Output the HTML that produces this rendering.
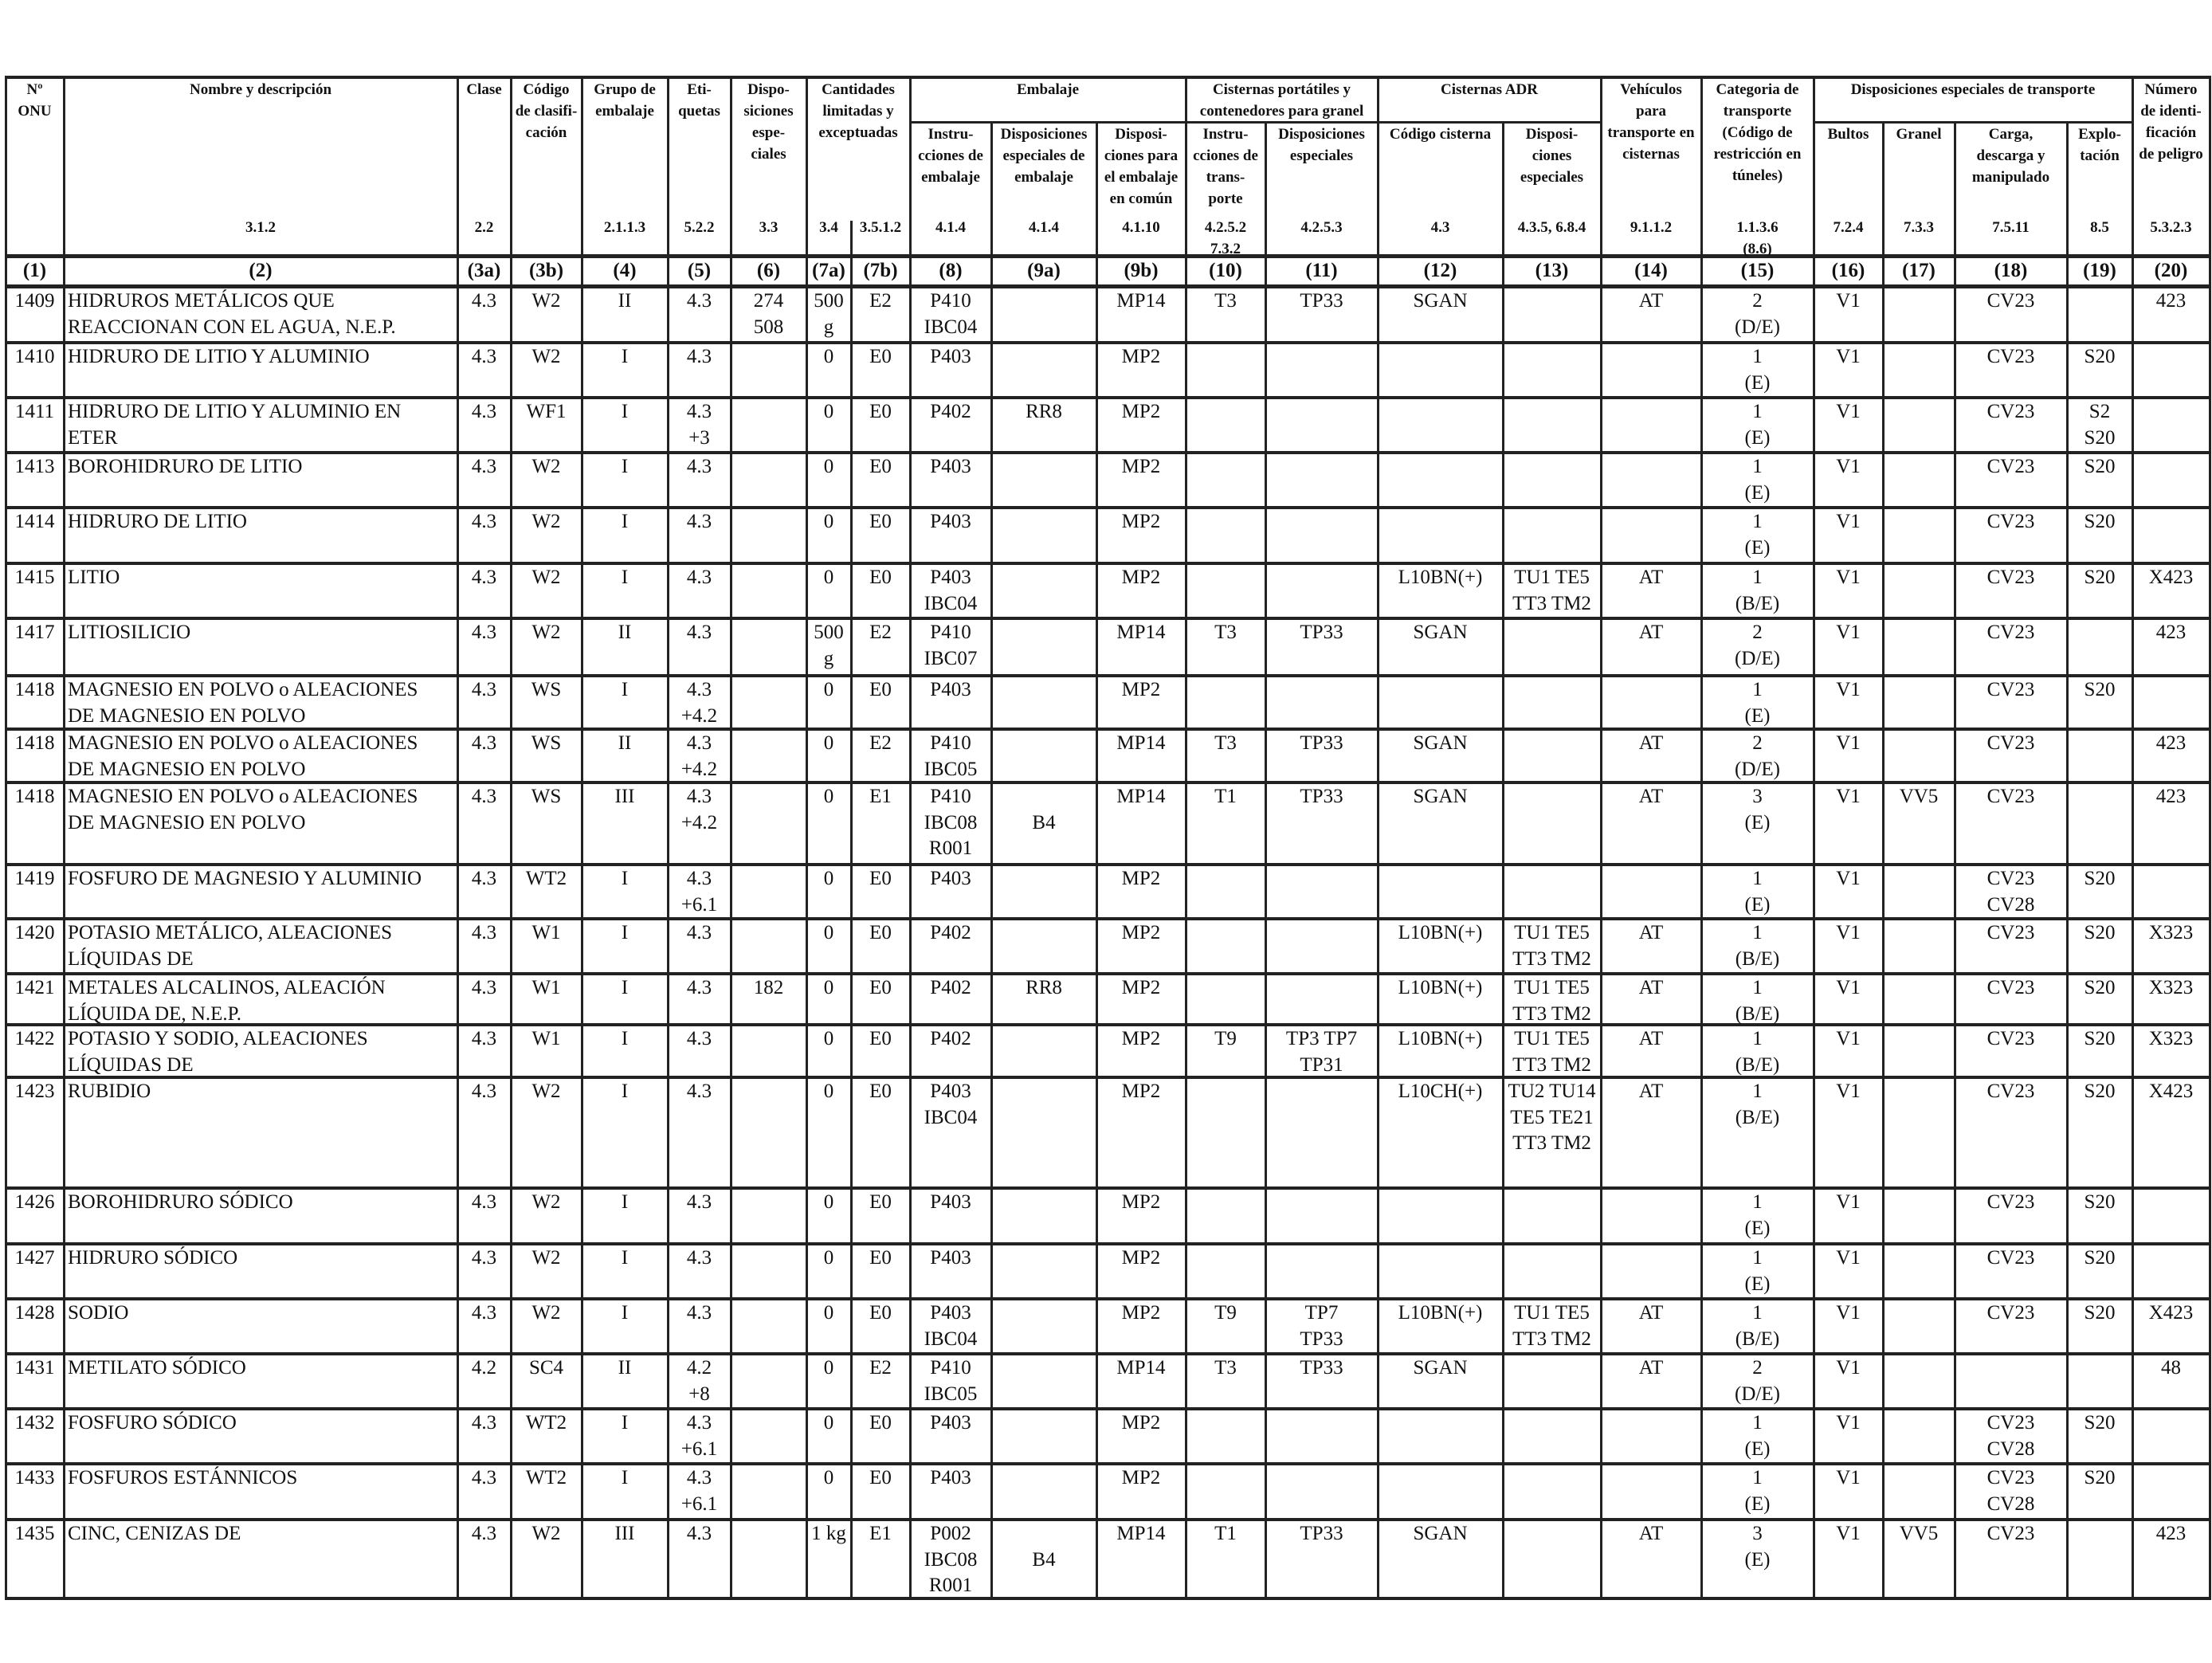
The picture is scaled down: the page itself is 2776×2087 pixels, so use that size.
<!DOCTYPE html>
<html><head><meta charset="utf-8">
<style>
html,body{margin:0;padding:0;background:#fff;}
#page{position:relative;width:2776px;height:2087px;overflow:hidden;background:#fff;font-family:"Liberation Serif",serif;color:#111;}
.ln{position:absolute;background:#222;}
.h{position:absolute;font-weight:bold;font-size:19px;line-height:27px;text-align:center;white-space:nowrap;}
.cn{position:absolute;font-weight:bold;font-size:25px;line-height:39px;text-align:center;white-space:nowrap;}
.c{position:absolute;font-size:25px;line-height:32.5px;text-align:center;white-space:nowrap;}
.c.nm{text-align:left;}
</style></head>
<body>
<div id="page"></div>
<script>
const colEdges=[7,80,574,641,730,838,917,1012,1068,1142,1244,1376,1488,1588,1729,1886,2009,2135,2276,2363,2453,2594,2676,2773];
const rowEdges=[359,429,498,567,636,706,775,847,914,981,1084,1152,1221,1285,1351,1490,1560,1629,1698,1767,1836,1906,2005];
const colNums=["(1)","(2)","(3a)","(3b)","(4)","(5)","(6)","(7a)","(7b)","(8)","(9a)","(9b)","(10)","(11)","(12)","(13)","(14)","(15)","(16)","(17)","(18)","(19)","(20)"];
const refs=["","3.1.2","2.2","","2.1.1.3","5.2.2","3.3","3.4","3.5.1.2","4.1.4","4.1.4","4.1.10","4.2.5.2|7.3.2","4.2.5.3","4.3","4.3.5, 6.8.4","9.1.1.2","1.1.3.6|(8.6)","7.2.4","7.3.3","7.5.11","8.5","5.3.2.3"];
const rows=[
["1409","HIDRUROS METÁLICOS QUE|REACCIONAN CON EL AGUA, N.E.P.","4.3","W2","II","4.3","274|508","500|g","E2","P410|IBC04","","MP14","T3","TP33","SGAN","","AT","2|(D/E)","V1","","CV23","","423"],
["1410","HIDRURO DE LITIO Y ALUMINIO","4.3","W2","I","4.3","","0","E0","P403","","MP2","","","","","","1|(E)","V1","","CV23","S20",""],
["1411","HIDRURO DE LITIO Y ALUMINIO EN|ETER","4.3","WF1","I","4.3|+3","","0","E0","P402","RR8","MP2","","","","","","1|(E)","V1","","CV23","S2|S20",""],
["1413","BOROHIDRURO DE LITIO","4.3","W2","I","4.3","","0","E0","P403","","MP2","","","","","","1|(E)","V1","","CV23","S20",""],
["1414","HIDRURO DE LITIO","4.3","W2","I","4.3","","0","E0","P403","","MP2","","","","","","1|(E)","V1","","CV23","S20",""],
["1415","LITIO","4.3","W2","I","4.3","","0","E0","P403|IBC04","","MP2","","","L10BN(+)","TU1 TE5|TT3 TM2","AT","1|(B/E)","V1","","CV23","S20","X423"],
["1417","LITIOSILICIO","4.3","W2","II","4.3","","500|g","E2","P410|IBC07","","MP14","T3","TP33","SGAN","","AT","2|(D/E)","V1","","CV23","","423"],
["1418","MAGNESIO EN POLVO o ALEACIONES|DE MAGNESIO EN POLVO","4.3","WS","I","4.3|+4.2","","0","E0","P403","","MP2","","","","","","1|(E)","V1","","CV23","S20",""],
["1418","MAGNESIO EN POLVO o ALEACIONES|DE MAGNESIO EN POLVO","4.3","WS","II","4.3|+4.2","","0","E2","P410|IBC05","","MP14","T3","TP33","SGAN","","AT","2|(D/E)","V1","","CV23","","423"],
["1418","MAGNESIO EN POLVO o ALEACIONES|DE MAGNESIO EN POLVO","4.3","WS","III","4.3|+4.2","","0","E1","P410|IBC08|R001","|B4","MP14","T1","TP33","SGAN","","AT","3|(E)","V1","VV5","CV23","","423"],
["1419","FOSFURO DE MAGNESIO Y ALUMINIO","4.3","WT2","I","4.3|+6.1","","0","E0","P403","","MP2","","","","","","1|(E)","V1","","CV23|CV28","S20",""],
["1420","POTASIO METÁLICO, ALEACIONES|LÍQUIDAS DE","4.3","W1","I","4.3","","0","E0","P402","","MP2","","","L10BN(+)","TU1 TE5|TT3 TM2","AT","1|(B/E)","V1","","CV23","S20","X323"],
["1421","METALES ALCALINOS, ALEACIÓN|LÍQUIDA DE, N.E.P.","4.3","W1","I","4.3","182","0","E0","P402","RR8","MP2","","","L10BN(+)","TU1 TE5|TT3 TM2","AT","1|(B/E)","V1","","CV23","S20","X323"],
["1422","POTASIO Y SODIO, ALEACIONES|LÍQUIDAS DE","4.3","W1","I","4.3","","0","E0","P402","","MP2","T9","TP3 TP7|TP31","L10BN(+)","TU1 TE5|TT3 TM2","AT","1|(B/E)","V1","","CV23","S20","X323"],
["1423","RUBIDIO","4.3","W2","I","4.3","","0","E0","P403|IBC04","","MP2","","","L10CH(+)","TU2 TU14|TE5 TE21|TT3 TM2","AT","1|(B/E)","V1","","CV23","S20","X423"],
["1426","BOROHIDRURO SÓDICO","4.3","W2","I","4.3","","0","E0","P403","","MP2","","","","","","1|(E)","V1","","CV23","S20",""],
["1427","HIDRURO SÓDICO","4.3","W2","I","4.3","","0","E0","P403","","MP2","","","","","","1|(E)","V1","","CV23","S20",""],
["1428","SODIO","4.3","W2","I","4.3","","0","E0","P403|IBC04","","MP2","T9","TP7|TP33","L10BN(+)","TU1 TE5|TT3 TM2","AT","1|(B/E)","V1","","CV23","S20","X423"],
["1431","METILATO SÓDICO","4.2","SC4","II","4.2|+8","","0","E2","P410|IBC05","","MP14","T3","TP33","SGAN","","AT","2|(D/E)","V1","","","","48"],
["1432","FOSFURO SÓDICO","4.3","WT2","I","4.3|+6.1","","0","E0","P403","","MP2","","","","","","1|(E)","V1","","CV23|CV28","S20",""],
["1433","FOSFUROS ESTÁNNICOS","4.3","WT2","I","4.3|+6.1","","0","E0","P403","","MP2","","","","","","1|(E)","V1","","CV23|CV28","S20",""],
["1435","CINC, CENIZAS DE","4.3","W2","III","4.3","","1 kg","E1","P002|IBC08|R001","|B4","MP14","T1","TP33","SGAN","","AT","3|(E)","V1","VV5","CV23","","423"]
];
const page=document.getElementById('page');
function line(x,y,w,h){
  const d=document.createElement('div');
  d.className='ln';
  
  
  d.style.left=x+'px';d.style.top=y+'px';d.style.width=w+'px';d.style.height=h+'px';
  page.appendChild(d);
}
function txt(cls,x0,x1,y,text,name){
  const d=document.createElement('div');
  d.className=cls;
  
  
  d.style.left=x0+'px';d.style.width=(x1-x0)+'px';d.style.top=y+'px';
  d.innerHTML=text.split('|').join('<br>');
  page.appendChild(d);
}
const E=colEdges;
const top0=95,grp=152,hb=320,nb=359,bottom=rowEdges[rowEdges.length-1];
// horizontal lines
line(E[0],top0,E[23]-E[0],4);
line(E[9],grp,E[16]-E[9],3);
line(E[18],grp,E[22]-E[18],3);
line(E[0],hb-1,E[23]-E[0],5);
line(E[0],nb-2,E[23]-E[0],5);
for(let i=1;i<rowEdges.length;i++){line(E[0],rowEdges[i]-1,E[23]-E[0],4);}
// vertical lines
const subCols=[10,11,13,15,19,20,21];
for(let i=0;i<E.length;i++){
  let y0=top0;
  if(subCols.includes(i)) y0=grp;
  if(i===8) y0=277;
  line(E[i]-1,y0,3,bottom-y0+3);
}
// header texts
const H=(a,b,y,t,n)=>txt('h',E[a],E[b],y,t,n);
H(0,1,99,"Nº|ONU","header-onu");
H(1,2,99,"Nombre y descripción","header-nombre");
H(2,3,99,"Clase","header-clase");
H(3,4,99,"Código|de clasifi-|cación","header-codigo");
H(4,5,99,"Grupo de|embalaje","header-grupo");
H(5,6,99,"Eti-|quetas","header-etiquetas");
H(6,7,99,"Dispo-|siciones|espe-|ciales","header-disposiciones");
H(7,9,99,"Cantidades|limitadas y|exceptuadas","header-cantidades");
H(9,12,99,"Embalaje","header-embalaje");
H(9,10,155,"Instru-|cciones de|embalaje","header-instrucciones-embalaje");
H(10,11,155,"Disposiciones|especiales de|embalaje","header-disp-embalaje");
H(11,12,155,"Disposi-|ciones para|el embalaje|en común","header-embalaje-comun");
H(12,14,99,"Cisternas portátiles y|contenedores para granel","header-cisternas-portatiles");
H(12,13,155,"Instru-|cciones de|trans-|porte","header-instr-transporte");
H(13,14,155,"Disposiciones|especiales","header-disp-cisternas");
H(14,16,99,"Cisternas ADR","header-cisternas-adr");
H(14,15,155,"Código cisterna","header-codigo-cisterna");
H(15,16,155,"Disposi-|ciones|especiales","header-disp-adr");
H(16,17,99,"Vehículos|para|transporte en|cisternas","header-vehiculos");
H(17,18,99,"Categoria de|transporte|(Código de|restricción en|túneles)","header-categoria");
H(18,22,99,"Disposiciones especiales de transporte","header-disp-transporte");
H(18,19,155,"Bultos","header-bultos");
H(19,20,155,"Granel","header-granel");
H(20,21,155,"Carga,|descarga y|manipulado","header-carga");
H(21,22,155,"Explo-|tación","header-explotacion");
H(22,23,99,"Número|de identi-|ficación|de peligro","header-numero-peligro");
for(let i=0;i<23;i++){
  if(refs[i]) txt('h',E[i],E[i+1],272,refs[i],'header-ref');
  txt('cn',E[i],E[i+1],320,colNums[i],'column-number');
}
// data rows
for(let r=0;r<rows.length;r++){
  const y=rowEdges[r]+3;
  for(let c=0;c<23;c++){
    const v=rows[r][c];
    if(!v) continue;
    if(c===1){ txt('c nm',E[1]+5,E[2],y,v,'cell-name'); }
    else { txt('c',E[c],E[c+1],y,v,'cell-value'); }
  }
}
</script>
</body></html>
